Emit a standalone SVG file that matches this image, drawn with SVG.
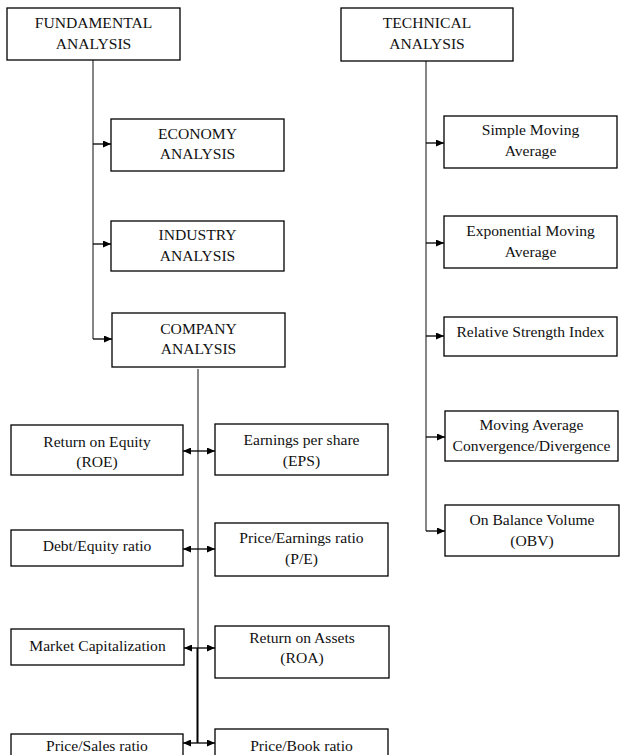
<svg xmlns="http://www.w3.org/2000/svg" width="622" height="755" viewBox="0 0 622 755">
<style>
.box{fill:#fff;stroke:#000;stroke-width:1.3}
.t{font-family:"Liberation Serif","Times New Roman",serif;font-size:15.6px;fill:#111;text-anchor:middle}
.ln{stroke:#222;stroke-width:1.1;fill:none}
.ar{stroke:#000;stroke-width:1.3;fill:none;marker-end:url(#ah)}
.da{stroke:#000;stroke-width:1.3;fill:none;marker-end:url(#ah);marker-start:url(#ah)}
</style>
<defs>
<marker id="ah" markerUnits="userSpaceOnUse" markerWidth="9" markerHeight="7" refX="8" refY="3.5" orient="auto-start-reverse"><path d="M0,0 L8,3.5 L0,7 z" fill="#000"/></marker>
</defs>
<g id="connectors">
<path class="ln" d="M93,60 V339"/>
<path class="ar" d="M93,144 H111"/>
<path class="ar" d="M93,244 H111"/>
<path class="ar" d="M93,339 H112"/>
<path class="ln" d="M426,61 V531"/>
<path class="ar" d="M426,143 H444"/>
<path class="ar" d="M426,243 H444"/>
<path class="ar" d="M426,336 H444"/>
<path class="ar" d="M426,437 H445"/>
<path class="ar" d="M426,531 H445"/>
<path class="ln" d="M198,369 V648"/>
<path class="ln" style="stroke-width:2;stroke:#000" d="M197.5,648 V743"/>
<path class="da" d="M183,451 H215"/>
<path class="da" d="M183,549 H215"/>
<path class="da" d="M184,648 H215"/>
<path class="da" d="M183,743 H215"/>
</g>
<g id="fundamental"><rect class="box" x="7" y="8" width="173" height="52"/><text class="t" x="93.5" y="28">FUNDAMENTAL</text><text class="t" x="93.5" y="49">ANALYSIS</text></g>
<g id="economy"><rect class="box" x="111" y="119" width="173" height="52"/><text class="t" x="197.5" y="139">ECONOMY</text><text class="t" x="197.5" y="159">ANALYSIS</text></g>
<g id="industry"><rect class="box" x="111" y="221" width="173" height="50"/><text class="t" x="197.5" y="240">INDUSTRY</text><text class="t" x="197.5" y="261">ANALYSIS</text></g>
<g id="company"><rect class="box" x="112" y="313" width="173" height="54"/><text class="t" x="198.5" y="334">COMPANY</text><text class="t" x="198.5" y="354">ANALYSIS</text></g>
<g id="technical"><rect class="box" x="341" y="8" width="172" height="53"/><text class="t" x="427" y="28">TECHNICAL</text><text class="t" x="427" y="49">ANALYSIS</text></g>
<g id="sma"><rect class="box" x="444" y="116" width="173" height="52"/><text class="t" x="530.5" y="135">Simple Moving</text><text class="t" x="530.5" y="156">Average</text></g>
<g id="ema"><rect class="box" x="444" y="216" width="173" height="52"/><text class="t" x="530.5" y="236">Exponential Moving</text><text class="t" x="530.5" y="257">Average</text></g>
<g id="rsi"><rect class="box" x="444" y="317" width="173" height="39"/><text class="t" x="530.5" y="337">Relative Strength Index</text></g>
<g id="macd"><rect class="box" x="445" y="411" width="173" height="50"/><text class="t" x="531.5" y="430">Moving Average</text><text class="t" x="531.5" y="451">Convergence/Divergence</text></g>
<g id="obv"><rect class="box" x="445" y="505" width="174" height="51"/><text class="t" x="532" y="525">On Balance Volume</text><text class="t" x="532" y="546">(OBV)</text></g>
<g id="roe"><rect class="box" x="11" y="425" width="172" height="50"/><text class="t" x="97" y="447">Return on Equity</text><text class="t" x="97" y="467">(ROE)</text></g>
<g id="eps"><rect class="box" x="215" y="424" width="173" height="51"/><text class="t" x="301.5" y="445">Earnings per share</text><text class="t" x="301.5" y="466">(EPS)</text></g>
<g id="de"><rect class="box" x="11" y="530" width="172" height="36"/><text class="t" x="97" y="551">Debt/Equity ratio</text></g>
<g id="pe"><rect class="box" x="215" y="523" width="173" height="53"/><text class="t" x="301.5" y="543">Price/Earnings ratio</text><text class="t" x="301.5" y="564">(P/E)</text></g>
<g id="mcap"><rect class="box" x="11" y="629" width="173" height="36"/><text class="t" x="97.5" y="651">Market Capitalization</text></g>
<g id="roa"><rect class="box" x="215" y="626" width="174" height="52"/><text class="t" x="302" y="643">Return on Assets</text><text class="t" x="302" y="663">(ROA)</text></g>
<g id="ps"><rect class="box" x="11" y="734" width="172" height="40"/><text class="t" x="97" y="751">Price/Sales ratio</text></g>
<g id="pb"><rect class="box" x="215" y="729" width="173" height="45"/><text class="t" x="301.5" y="751">Price/Book ratio</text></g>
</svg>
